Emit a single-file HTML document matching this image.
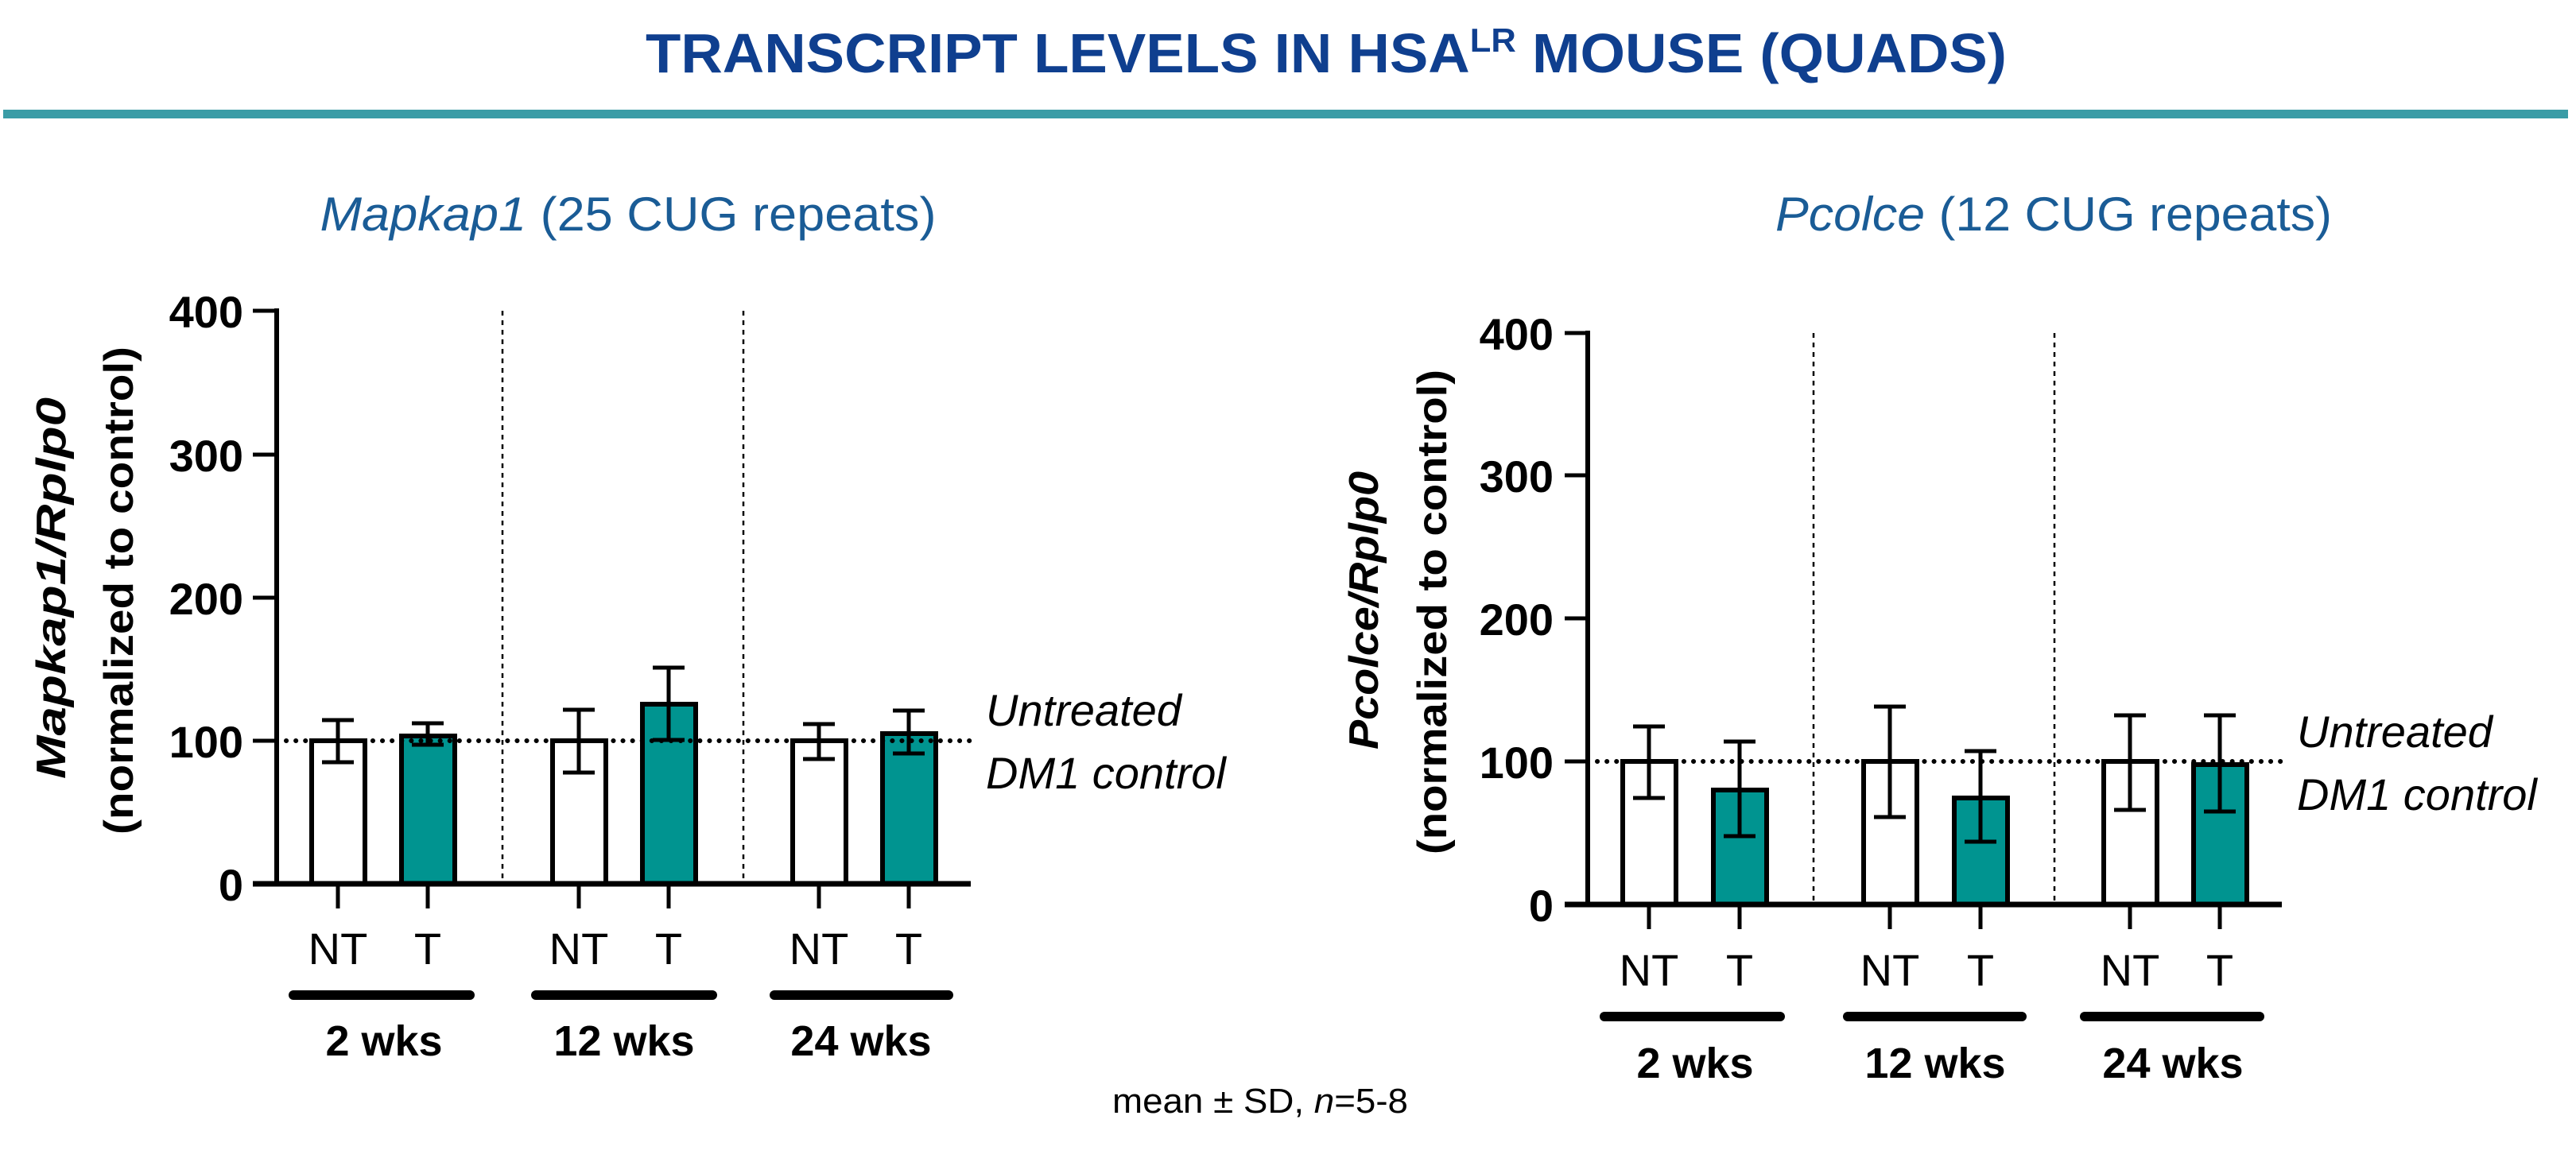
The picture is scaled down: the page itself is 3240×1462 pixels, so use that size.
<!DOCTYPE html>
<html><head><meta charset="utf-8"><style>
html,body{margin:0;padding:0;background:#fff;}
svg{display:block;}
text{font-family:"Liberation Sans",sans-serif;}
</style></head><body>
<svg width="3240" height="1462" viewBox="0 0 3240 1462" xmlns="http://www.w3.org/2000/svg">
<rect width="3240" height="1462" fill="#fff"/>
<text x="1668" y="91" text-anchor="middle" font-size="70" font-weight="bold" fill="#0f3f8f" textLength="1712" lengthAdjust="spacingAndGlyphs">TRANSCRIPT LEVELS IN HSA<tspan font-size="42" dy="-26">LR</tspan><tspan dy="26"> MOUSE (QUADS)</tspan></text>
<rect x="4" y="138" width="3226" height="11" fill="#3a9ca6"/>

<text x="790" y="290" text-anchor="middle" font-size="60" fill="#1a5c96" textLength="775" lengthAdjust="spacingAndGlyphs"><tspan font-style="italic">Mapkap1</tspan> (25 CUG repeats)</text>
<text x="2583" y="290" text-anchor="middle" font-size="60" fill="#1a5c96" textLength="700" lengthAdjust="spacingAndGlyphs"><tspan font-style="italic">Pcolce</tspan> (12 CUG repeats)</text>

<!-- LEFT CHART -->
<g>
<g stroke="#000" stroke-width="2.5" stroke-dasharray="6,6"><line x1="632" y1="391" x2="632" y2="1112"/><line x1="935" y1="391" x2="935" y2="1112"/></g>
<g stroke="#000" stroke-width="6" fill="#fff">
<rect x="392" y="932" width="67" height="180"/>
<rect x="505" y="926" width="67" height="186" fill="#009490"/>
<rect x="695" y="932" width="67" height="180"/>
<rect x="808" y="886" width="67" height="226" fill="#009490"/>
<rect x="997" y="932" width="67" height="180"/>
<rect x="1110" y="923" width="67" height="189" fill="#009490"/>
</g>
<g stroke="#000" stroke-width="5" fill="none">
<path d="M425 906V959M405 906H445M405 959H445"/>
<path d="M538 910V937M518 910H558M518 937H558"/>
<path d="M728 893V972M708 893H748M708 972H748"/>
<path d="M841 840V931M821 840H861M821 931H861"/>
<path d="M1030 911V955M1010 911H1050M1010 955H1050"/>
<path d="M1143 894V948M1123 894H1163M1123 948H1163"/>
</g>
<line x1="360" y1="932" x2="1222" y2="932" stroke="#000" stroke-width="6" stroke-dasharray="0.1,12" stroke-linecap="round"/>
<line x1="348" y1="388" x2="348" y2="1115" stroke="#000" stroke-width="6"/>
<line x1="318" y1="1112" x2="1221" y2="1112" stroke="#000" stroke-width="7"/>
<g stroke="#000" stroke-width="5"><line x1="318" y1="391" x2="348" y2="391"/><line x1="318" y1="572" x2="348" y2="572"/><line x1="318" y1="752" x2="348" y2="752"/><line x1="318" y1="932" x2="348" y2="932"/>
<line x1="425" y1="1112" x2="425" y2="1143"/><line x1="538" y1="1112" x2="538" y2="1143"/><line x1="728" y1="1112" x2="728" y2="1143"/><line x1="841" y1="1112" x2="841" y2="1143"/><line x1="1030" y1="1112" x2="1030" y2="1143"/><line x1="1143" y1="1112" x2="1143" y2="1143"/></g>
<g font-size="56" font-weight="bold" text-anchor="end"><text x="306" y="412">400</text><text x="306" y="593">300</text><text x="306" y="773">200</text><text x="306" y="953">100</text><text x="306" y="1133">0</text></g>
<g font-size="56" text-anchor="middle"><text x="425" y="1213">NT</text><text x="538" y="1213">T</text><text x="728" y="1213">NT</text><text x="841" y="1213">T</text><text x="1030" y="1213">NT</text><text x="1143" y="1213">T</text></g>
<g stroke="#000" stroke-width="12" stroke-linecap="round"><line x1="369" y1="1252" x2="591" y2="1252"/><line x1="674" y1="1252" x2="896" y2="1252"/><line x1="974" y1="1252" x2="1193" y2="1252"/></g>
<g font-size="54" font-weight="bold" text-anchor="middle"><text x="483" y="1328">2 wks</text><text x="785" y="1328">12 wks</text><text x="1083" y="1328">24 wks</text></g>
<g font-size="56" font-style="italic"><text x="1240" y="913">Untreated</text><text x="1240" y="992">DM1 control</text></g>
<g font-size="52" font-weight="bold">
<text transform="translate(82,980) rotate(-90)" font-style="italic" textLength="480" lengthAdjust="spacingAndGlyphs">Mapkap1/Rplp0</text>
<text transform="translate(167,1050) rotate(-90)" textLength="614" lengthAdjust="spacingAndGlyphs">(normalized to control)</text></g>
</g>

<!-- RIGHT CHART -->
<g>
<g stroke="#000" stroke-width="2.5" stroke-dasharray="6,6"><line x1="2281" y1="419" x2="2281" y2="1138"/><line x1="2584" y1="419" x2="2584" y2="1138"/></g>
<g stroke="#000" stroke-width="6" fill="#fff">
<rect x="2041" y="958" width="67" height="180"/>
<rect x="2155" y="994" width="67" height="144" fill="#009490"/>
<rect x="2344" y="958" width="67" height="180"/>
<rect x="2458" y="1004" width="67" height="134" fill="#009490"/>
<rect x="2646" y="958" width="67" height="180"/>
<rect x="2759" y="962" width="67" height="176" fill="#009490"/>
</g>
<g stroke="#000" stroke-width="5" fill="none">
<path d="M2074 914V1004M2054 914H2094M2054 1004H2094"/>
<path d="M2188 933V1052M2168 933H2208M2168 1052H2208"/>
<path d="M2377 889V1028M2357 889H2397M2357 1028H2397"/>
<path d="M2491 945V1059M2471 945H2511M2471 1059H2511"/>
<path d="M2679 900V1019M2659 900H2699M2659 1019H2699"/>
<path d="M2792 900V1021M2772 900H2812M2772 1021H2812"/>
</g>
<line x1="2009" y1="958" x2="2872" y2="958" stroke="#000" stroke-width="6" stroke-dasharray="0.1,12" stroke-linecap="round"/>
<line x1="1997" y1="416" x2="1997" y2="1141" stroke="#000" stroke-width="6"/>
<line x1="1968" y1="1138" x2="2870" y2="1138" stroke="#000" stroke-width="7"/>
<g stroke="#000" stroke-width="5"><line x1="1968" y1="419" x2="1997" y2="419"/><line x1="1968" y1="598" x2="1997" y2="598"/><line x1="1968" y1="778" x2="1997" y2="778"/><line x1="1968" y1="958" x2="1997" y2="958"/>
<line x1="2074" y1="1138" x2="2074" y2="1169"/><line x1="2188" y1="1138" x2="2188" y2="1169"/><line x1="2377" y1="1138" x2="2377" y2="1169"/><line x1="2491" y1="1138" x2="2491" y2="1169"/><line x1="2679" y1="1138" x2="2679" y2="1169"/><line x1="2792" y1="1138" x2="2792" y2="1169"/></g>
<g font-size="56" font-weight="bold" text-anchor="end"><text x="1954" y="440">400</text><text x="1954" y="619">300</text><text x="1954" y="799">200</text><text x="1954" y="979">100</text><text x="1954" y="1159">0</text></g>
<g font-size="56" text-anchor="middle"><text x="2074" y="1240">NT</text><text x="2188" y="1240">T</text><text x="2377" y="1240">NT</text><text x="2491" y="1240">T</text><text x="2679" y="1240">NT</text><text x="2792" y="1240">T</text></g>
<g stroke="#000" stroke-width="12" stroke-linecap="round"><line x1="2018" y1="1279" x2="2239" y2="1279"/><line x1="2324" y1="1279" x2="2543" y2="1279"/><line x1="2622" y1="1279" x2="2842" y2="1279"/></g>
<g font-size="54" font-weight="bold" text-anchor="middle"><text x="2132" y="1356">2 wks</text><text x="2434" y="1356">12 wks</text><text x="2733" y="1356">24 wks</text></g>
<g font-size="56" font-style="italic"><text x="2889" y="940">Untreated</text><text x="2889" y="1019">DM1 control</text></g>
<g font-size="52" font-weight="bold">
<text transform="translate(1733,943) rotate(-90)" font-style="italic" textLength="350" lengthAdjust="spacingAndGlyphs">Pcolce/Rplp0</text>
<text transform="translate(1819,1075) rotate(-90)" textLength="610" lengthAdjust="spacingAndGlyphs">(normalized to control)</text></g>
</g>

<text x="1585" y="1400" text-anchor="middle" font-size="44" textLength="372" lengthAdjust="spacingAndGlyphs">mean ± SD, <tspan font-style="italic">n</tspan>=5-8</text>
</svg>
</body></html>
